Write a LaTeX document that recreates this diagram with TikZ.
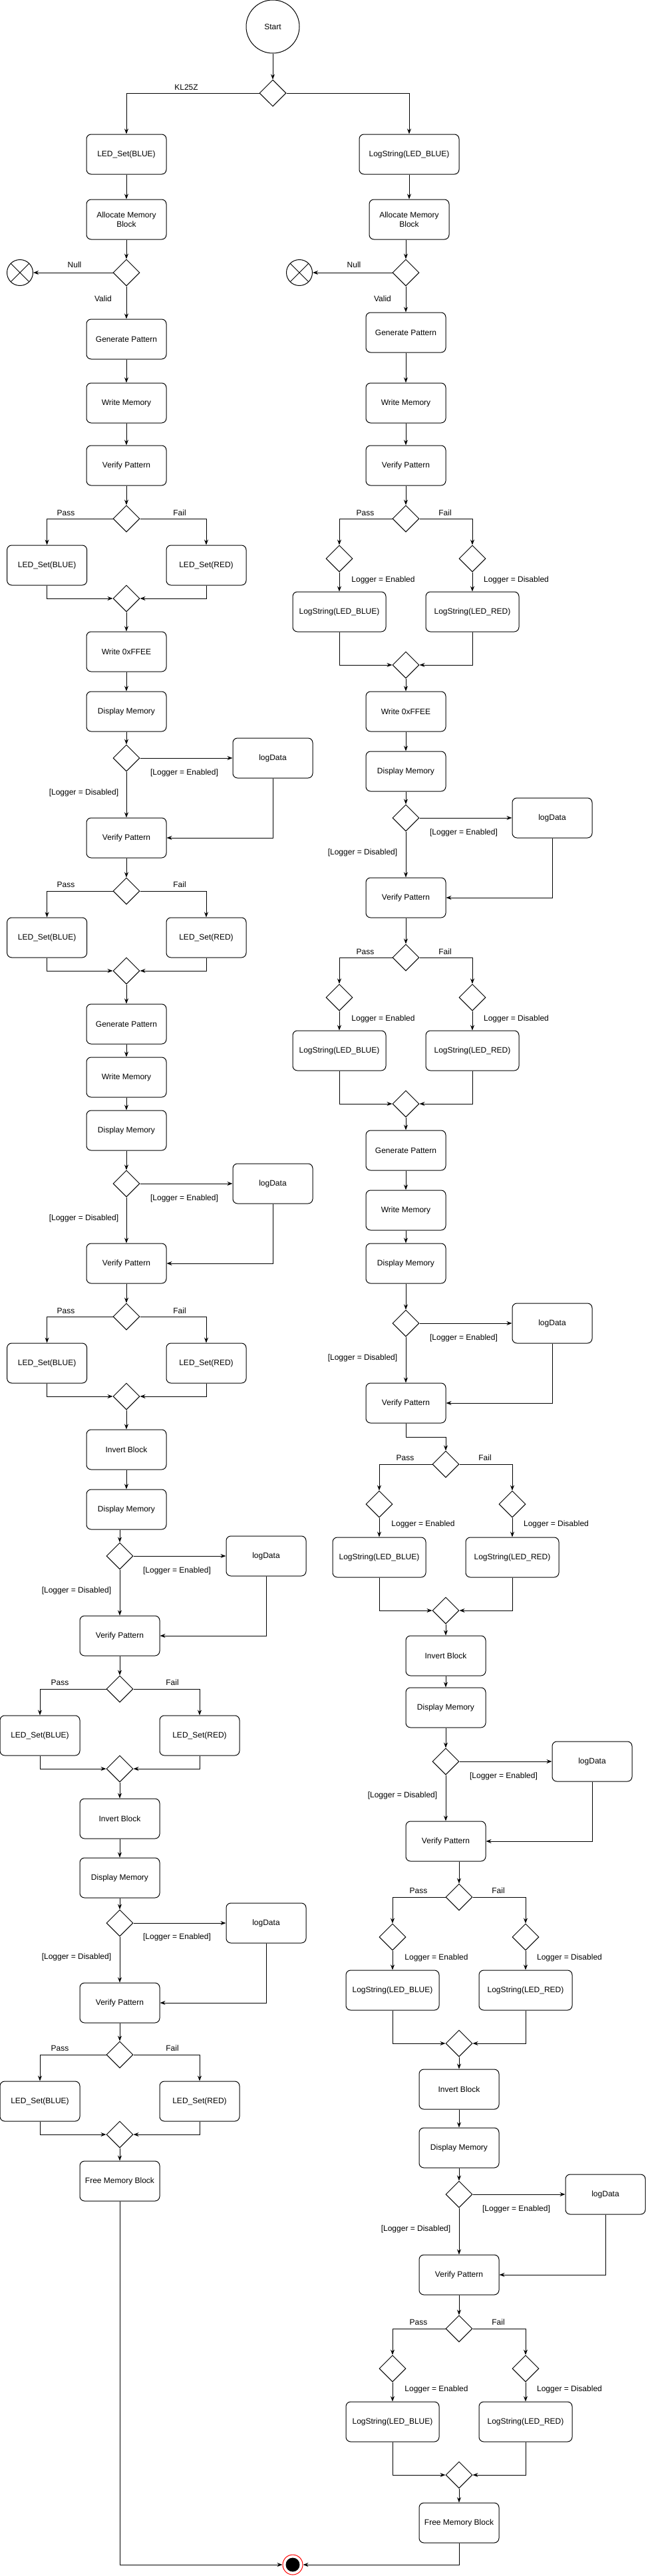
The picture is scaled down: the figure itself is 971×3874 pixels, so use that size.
\documentclass[tikz,border=0pt]{standalone}
\usepackage{fontspec}
\setmainfont{Liberation Sans}
\usetikzlibrary{shapes.geometric,arrows.meta}
\begin{document}
\begin{tikzpicture}[x=1pt,y=-1pt,line width=1pt,font=\fontsize{12}{14}\selectfont,
  act/.style={shape=rectangle,draw=black,rounded corners=7pt,minimum width=120pt,minimum height=60pt,inner sep=1pt,align=center},
  logbox/.style={act,minimum width=140pt},
  dec/.style={shape=diamond,draw=black,minimum width=40pt,minimum height=40pt,inner sep=0pt},
  lbl/.style={inner sep=0pt,text height=9pt,text depth=3pt},
  nullend/.style={shape=circle,draw=black,minimum size=39pt,inner sep=0pt,
    path picture={\draw (path picture bounding box.north west) -- (path picture bounding box.south east)
      (path picture bounding box.south west) -- (path picture bounding box.north east);}},
  stopnode/.style={shape=circle,draw=red,minimum size=30pt,inner sep=0pt,
    path picture={\fill[black] (path picture bounding box.center) circle (10.5pt);}},
  flow/.style={-{Stealth[length=8pt,width=6pt]}}]
  \useasboundingbox (0,0) rectangle (971,3874);

  \node[shape=circle,draw=black,minimum size=80pt] (start) at (410,40) {Start};
  \node[dec] (d0) at (410,140) {};
  \node[lbl] (tKL) at (280,132) {KL25Z};
  \node[stopnode] (stop) at (440,3857) {};

  % left branch
  \node[act] (lLed0) at (190,232) {LED\_Set(BLUE)};
  \node[act] (lAlloc) at (190,330) {Allocate Memory\\Block};
  \node[dec] (lNull) at (190,410) {};
  \node[nullend] (lX) at (30,410) {};
  \node[lbl] (tNullL) at (112,399) {Null};
  \node[lbl] (tValidL) at (155,450) {Valid};
  \node[act] (lGen1) at (190,510) {Generate Pattern};
  \node[act] (lWr1) at (190,606) {Write Memory};
  \node[act] (lVer1) at (190,700) {Verify Pattern};
  \node[dec] (lPF1) at (190,780) {};
  \node[lbl] (tPass1L) at (99,772) {Pass};
  \node[lbl] (tFail1L) at (270,772) {Fail};
  \node[act] (lB1) at (70.6,850) {LED\_Set(BLUE)};
  \node[act] (lR1) at (310,850) {LED\_Set(RED)};
  \node[dec] (lM1) at (190,900) {};
  \node[act] (lWf) at (190,980) {Write 0xFFEE};
  \node[act] (lDis1) at (190,1070) {Display Memory};
  \node[dec] (lLg1) at (190,1140) {};
  \node[act] (lLog1) at (410,1140) {logData};
  \node[lbl] (tEn1L) at (277,1162) {[Logger = Enabled]};
  \node[lbl] (tDis1L) at (126,1192) {[Logger = Disabled]};
  \node[act] (lVer2) at (190,1260) {Verify Pattern};
  \node[dec] (lPF2) at (190,1340) {};
  \node[lbl] (tPass2L) at (99,1331) {Pass};
  \node[lbl] (tFail2L) at (270,1331) {Fail};
  \node[act] (lB2) at (70.6,1410) {LED\_Set(BLUE)};
  \node[act] (lR2) at (310,1410) {LED\_Set(RED)};
  \node[dec] (lM2) at (190,1460) {};
  \node[act] (lGen2) at (190,1540) {Generate Pattern};
  \node[act] (lWr2) at (190,1620) {Write Memory};
  \node[act] (lDis2) at (190,1700) {Display Memory};
  \node[dec] (lLg2) at (190,1780) {};
  \node[act] (lLog2) at (410,1780) {logData};
  \node[lbl] (tEn2L) at (277,1802) {[Logger = Enabled]};
  \node[lbl] (tDis2L) at (126,1832) {[Logger = Disabled]};
  \node[act] (lVer3) at (190,1900) {Verify Pattern};
  \node[dec] (lPF3) at (190,1980) {};
  \node[lbl] (tPass3L) at (99,1972) {Pass};
  \node[lbl] (tFail3L) at (270,1972) {Fail};
  \node[act] (lB3) at (70.6,2050) {LED\_Set(BLUE)};
  \node[act] (lR3) at (310,2050) {LED\_Set(RED)};
  \node[dec] (lM3) at (190,2100) {};
  \node[act] (lInv1) at (190,2180) {Invert Block};
  \node[act] (lDis3) at (190,2270) {Display Memory};
  \node[dec] (lLg3) at (180,2340) {};
  \node[act] (lLog3) at (400,2340) {logData};
  \node[lbl] (tEn3L) at (266,2362) {[Logger = Enabled]};
  \node[lbl] (tDis3L) at (115,2392) {[Logger = Disabled]};
  \node[act] (lVer4) at (180,2460) {Verify Pattern};
  \node[dec] (lPF4) at (180,2540) {};
  \node[lbl] (tPass4L) at (90,2531) {Pass};
  \node[lbl] (tFail4L) at (259,2531) {Fail};
  \node[act] (lB4) at (60,2610) {LED\_Set(BLUE)};
  \node[act] (lR4) at (300,2610) {LED\_Set(RED)};
  \node[dec] (lM4) at (180,2660) {};
  \node[act] (lInv2) at (180,2735) {Invert Block};
  \node[act] (lDis4) at (180,2824) {Display Memory};
  \node[dec] (lLg4) at (180,2892) {};
  \node[act] (lLog4) at (400,2892) {logData};
  \node[lbl] (tEn4L) at (266,2913) {[Logger = Enabled]};
  \node[lbl] (tDis4L) at (115,2943) {[Logger = Disabled]};
  \node[act] (lVer5) at (180,3012) {Verify Pattern};
  \node[dec] (lPF5) at (180,3090) {};
  \node[lbl] (tPass5L) at (90,3081) {Pass};
  \node[lbl] (tFail5L) at (259,3081) {Fail};
  \node[act] (lB5) at (60,3160) {LED\_Set(BLUE)};
  \node[act] (lR5) at (300,3160) {LED\_Set(RED)};
  \node[dec] (lM5) at (180,3210) {};
  \node[act] (lFree) at (180,3280) {Free Memory Block};

  % right branch
  \node[act,minimum width=150pt] (rLog0) at (615,232) {LogString(LED\_BLUE)};
  \node[act] (rAlloc) at (615,330) {Allocate Memory\\Block};
  \node[dec] (rNull) at (610,410) {};
  \node[nullend] (rX) at (450,410) {};
  \node[lbl] (tNullR) at (532,399) {Null};
  \node[lbl] (tValidR) at (575,450) {Valid};
  \node[act] (rGen1) at (610,500) {Generate Pattern};
  \node[act] (rWr1) at (610,606) {Write Memory};
  \node[act] (rVer1) at (610,700) {Verify Pattern};
  \node[dec] (rPF1) at (610,780) {};
  \node[lbl] (tPass1R) at (549,772) {Pass};
  \node[lbl] (tFail1R) at (669,772) {Fail};
  \node[dec] (rLE1) at (510,840) {};
  \node[dec] (rLD1) at (710,840) {};
  \node[lbl] (tLE1) at (576,872) {Logger = Enabled};
  \node[lbl] (tLD1) at (776,872) {Logger = Disabled};
  \node[logbox] (rSB1) at (510,920) {LogString(LED\_BLUE)};
  \node[logbox] (rSR1) at (710,920) {LogString(LED\_RED)};
  \node[dec] (rM1) at (610,1000) {};
  \node[act] (rWf) at (610,1070) {Write 0xFFEE};
  \node[act] (rDis1) at (610,1160) {Display Memory};
  \node[dec] (rLg1) at (610,1230) {};
  \node[act] (rLog1) at (830,1230) {logData};
  \node[lbl] (tEn1R) at (697,1252) {[Logger = Enabled]};
  \node[lbl] (tDis1R) at (545,1282) {[Logger = Disabled]};
  \node[act] (rVer2) at (610,1350) {Verify Pattern};
  \node[dec] (rPF2) at (610,1440) {};
  \node[lbl] (tPass2R) at (549,1432) {Pass};
  \node[lbl] (tFail2R) at (669,1432) {Fail};
  \node[dec] (rLE2) at (510,1500) {};
  \node[dec] (rLD2) at (710,1500) {};
  \node[lbl] (tLE2) at (576,1532) {Logger = Enabled};
  \node[lbl] (tLD2) at (776,1532) {Logger = Disabled};
  \node[logbox] (rSB2) at (510,1580) {LogString(LED\_BLUE)};
  \node[logbox] (rSR2) at (710,1580) {LogString(LED\_RED)};
  \node[dec] (rM2) at (610,1660) {};
  \node[act] (rGen2) at (610,1730) {Generate Pattern};
  \node[act] (rWr2) at (610,1820) {Write Memory};
  \node[act] (rDis2) at (610,1900) {Display Memory};
  \node[dec] (rLg2) at (610,1990) {};
  \node[act] (rLog2) at (830,1990) {logData};
  \node[lbl] (tEn2R) at (697,2012) {[Logger = Enabled]};
  \node[lbl] (tDis2R) at (545,2042) {[Logger = Disabled]};
  \node[act] (rVer3) at (610,2110) {Verify Pattern};
  \node[dec] (rPF3) at (670,2202) {};
  \node[lbl] (tPass3R) at (609,2193) {Pass};
  \node[lbl] (tFail3R) at (729,2193) {Fail};
  \node[dec] (rLE3) at (570,2262) {};
  \node[dec] (rLD3) at (770,2262) {};
  \node[lbl] (tLE3) at (636,2292) {Logger = Enabled};
  \node[lbl] (tLD3) at (836,2292) {Logger = Disabled};
  \node[logbox] (rSB3) at (570,2342) {LogString(LED\_BLUE)};
  \node[logbox] (rSR3) at (770,2342) {LogString(LED\_RED)};
  \node[dec] (rM3) at (670,2422) {};
  \node[act] (rInv1) at (670,2490) {Invert Block};
  \node[act] (rDis3) at (670,2568) {Display Memory};
  \node[dec] (rLg3) at (670,2649) {};
  \node[act] (rLog3) at (890,2649) {logData};
  \node[lbl] (tEn3R) at (757,2671) {[Logger = Enabled]};
  \node[lbl] (tDis3R) at (605,2700) {[Logger = Disabled]};
  \node[act] (rVer4) at (670,2769) {Verify Pattern};
  \node[dec] (rPF4) at (690,2853) {};
  \node[lbl] (tPass4R) at (629,2844) {Pass};
  \node[lbl] (tFail4R) at (749,2844) {Fail};
  \node[dec] (rLE4) at (590,2913) {};
  \node[dec] (rLD4) at (790,2913) {};
  \node[lbl] (tLE4) at (656,2944) {Logger = Enabled};
  \node[lbl] (tLD4) at (856,2944) {Logger = Disabled};
  \node[logbox] (rSB4) at (590,2993) {LogString(LED\_BLUE)};
  \node[logbox] (rSR4) at (790,2993) {LogString(LED\_RED)};
  \node[dec] (rM4) at (690,3073) {};
  \node[act] (rInv2) at (690,3142) {Invert Block};
  \node[act] (rDis4) at (690,3230) {Display Memory};
  \node[dec] (rLg4) at (690,3300) {};
  \node[act] (rLog4) at (910,3300) {logData};
  \node[lbl] (tEn4R) at (776,3322) {[Logger = Enabled]};
  \node[lbl] (tDis4R) at (625,3352) {[Logger = Disabled]};
  \node[act] (rVer5) at (690,3421) {Verify Pattern};
  \node[dec] (rPF5) at (690,3502) {};
  \node[lbl] (tPass5R) at (629,3493) {Pass};
  \node[lbl] (tFail5R) at (749,3493) {Fail};
  \node[dec] (rLE5) at (590,3562) {};
  \node[dec] (rLD5) at (790,3562) {};
  \node[lbl] (tLE5) at (656,3593) {Logger = Enabled};
  \node[lbl] (tLD5) at (856,3593) {Logger = Disabled};
  \node[logbox] (rSB5) at (590,3642) {LogString(LED\_BLUE)};
  \node[logbox] (rSR5) at (790,3642) {LogString(LED\_RED)};
  \node[dec] (rM5) at (690,3722) {};
  \node[act] (rFree) at (690,3794) {Free Memory Block};

  % connectors, top
  \path [flow] (start) edge (d0);
  \draw [flow] (d0.west) -| (lLed0.north);
  \draw [flow] (d0.east) -| (rLog0.north);

  % connectors, left
  \path [flow] (lLed0) edge (lAlloc);
  \path [flow] (lAlloc) edge (lNull);
  \path [flow] (lNull) edge (lX);
  \path [flow] (lNull) edge (lGen1);
  \path [flow] (lGen1) edge (lWr1);
  \path [flow] (lWr1) edge (lVer1);
  \path [flow] (lVer1) edge (lPF1);
  \draw [flow] (lPF1.west) -| (lB1.north);
  \draw [flow] (lPF1.east) -| (lR1.north);
  \draw [flow] (lB1.south) |- (lM1.west);
  \draw [flow] (lR1.south) |- (lM1.east);
  \path [flow] (lM1) edge (lWf);
  \path [flow] (lWf) edge (lDis1);
  \path [flow] (lDis1) edge (lLg1);
  \path [flow] (lLg1) edge (lLog1);
  \path [flow] (lLg1) edge (lVer2);
  \draw [flow] (lLog1.south) |- (lVer2.east);
  \path [flow] (lVer2) edge (lPF2);
  \draw [flow] (lPF2.west) -| (lB2.north);
  \draw [flow] (lPF2.east) -| (lR2.north);
  \draw [flow] (lB2.south) |- (lM2.west);
  \draw [flow] (lR2.south) |- (lM2.east);
  \path [flow] (lM2) edge (lGen2);
  \path [flow] (lGen2) edge (lWr2);
  \path [flow] (lWr2) edge (lDis2);
  \path [flow] (lDis2) edge (lLg2);
  \path [flow] (lLg2) edge (lLog2);
  \path [flow] (lLg2) edge (lVer3);
  \draw [flow] (lLog2.south) |- (lVer3.east);
  \path [flow] (lVer3) edge (lPF3);
  \draw [flow] (lPF3.west) -| (lB3.north);
  \draw [flow] (lPF3.east) -| (lR3.north);
  \draw [flow] (lB3.south) |- (lM3.west);
  \draw [flow] (lR3.south) |- (lM3.east);
  \path [flow] (lM3) edge (lInv1);
  \path [flow] (lInv1) edge (lDis3);
  \draw [flow] (lDis3.south -| lLg3) -- (lLg3);
  \path [flow] (lLg3) edge (lLog3);
  \path [flow] (lLg3) edge (lVer4);
  \draw [flow] (lLog3.south) |- (lVer4.east);
  \path [flow] (lVer4) edge (lPF4);
  \draw [flow] (lPF4.west) -| (lB4.north);
  \draw [flow] (lPF4.east) -| (lR4.north);
  \draw [flow] (lB4.south) |- (lM4.west);
  \draw [flow] (lR4.south) |- (lM4.east);
  \path [flow] (lM4) edge (lInv2);
  \path [flow] (lInv2) edge (lDis4);
  \path [flow] (lDis4) edge (lLg4);
  \path [flow] (lLg4) edge (lLog4);
  \path [flow] (lLg4) edge (lVer5);
  \draw [flow] (lLog4.south) |- (lVer5.east);
  \path [flow] (lVer5) edge (lPF5);
  \draw [flow] (lPF5.west) -| (lB5.north);
  \draw [flow] (lPF5.east) -| (lR5.north);
  \draw [flow] (lB5.south) |- (lM5.west);
  \draw [flow] (lR5.south) |- (lM5.east);
  \path [flow] (lM5) edge (lFree);
  \draw [flow] (lFree.south) |- (stop.west);

  % connectors, right
  \path [flow] (rLog0) edge (rAlloc);
  \draw [flow] (rAlloc.south -| rNull) -- (rNull);
  \path [flow] (rNull) edge (rX);
  \path [flow] (rNull) edge (rGen1);
  \path [flow] (rGen1) edge (rWr1);
  \path [flow] (rWr1) edge (rVer1);
  \path [flow] (rVer1) edge (rPF1);
  \draw [flow] (rPF1.west) -| (rLE1.north);
  \draw [flow] (rPF1.east) -| (rLD1.north);
  \path [flow] (rLE1) edge (rSB1);
  \path [flow] (rLD1) edge (rSR1);
  \draw [flow] (rSB1.south) |- (rM1.west);
  \draw [flow] (rSR1.south) |- (rM1.east);
  \path [flow] (rM1) edge (rWf);
  \path [flow] (rWf) edge (rDis1);
  \path [flow] (rDis1) edge (rLg1);
  \path [flow] (rLg1) edge (rLog1);
  \path [flow] (rLg1) edge (rVer2);
  \draw [flow] (rLog1.south) |- (rVer2.east);
  \path [flow] (rVer2) edge (rPF2);
  \draw [flow] (rPF2.west) -| (rLE2.north);
  \draw [flow] (rPF2.east) -| (rLD2.north);
  \path [flow] (rLE2) edge (rSB2);
  \path [flow] (rLD2) edge (rSR2);
  \draw [flow] (rSB2.south) |- (rM2.west);
  \draw [flow] (rSR2.south) |- (rM2.east);
  \path [flow] (rM2) edge (rGen2);
  \path [flow] (rGen2) edge (rWr2);
  \path [flow] (rWr2) edge (rDis2);
  \path [flow] (rDis2) edge (rLg2);
  \path [flow] (rLg2) edge (rLog2);
  \path [flow] (rLg2) edge (rVer3);
  \draw [flow] (rLog2.south) |- (rVer3.east);
  \draw [flow] (rVer3.south) -- ++(0,21) -| (rPF3.north);
  \draw [flow] (rPF3.west) -| (rLE3.north);
  \draw [flow] (rPF3.east) -| (rLD3.north);
  \path [flow] (rLE3) edge (rSB3);
  \path [flow] (rLD3) edge (rSR3);
  \draw [flow] (rSB3.south) |- (rM3.west);
  \draw [flow] (rSR3.south) |- (rM3.east);
  \path [flow] (rM3) edge (rInv1);
  \path [flow] (rInv1) edge (rDis3);
  \path [flow] (rDis3) edge (rLg3);
  \path [flow] (rLg3) edge (rLog3);
  \path [flow] (rLg3) edge (rVer4);
  \draw [flow] (rLog3.south) |- (rVer4.east);
  \draw [flow] (rVer4.south -| rPF4) -- (rPF4);
  \draw [flow] (rPF4.west) -| (rLE4.north);
  \draw [flow] (rPF4.east) -| (rLD4.north);
  \path [flow] (rLE4) edge (rSB4);
  \path [flow] (rLD4) edge (rSR4);
  \draw [flow] (rSB4.south) |- (rM4.west);
  \draw [flow] (rSR4.south) |- (rM4.east);
  \path [flow] (rM4) edge (rInv2);
  \path [flow] (rInv2) edge (rDis4);
  \path [flow] (rDis4) edge (rLg4);
  \path [flow] (rLg4) edge (rLog4);
  \path [flow] (rLg4) edge (rVer5);
  \draw [flow] (rLog4.south) |- (rVer5.east);
  \path [flow] (rVer5) edge (rPF5);
  \draw [flow] (rPF5.west) -| (rLE5.north);
  \draw [flow] (rPF5.east) -| (rLD5.north);
  \path [flow] (rLE5) edge (rSB5);
  \path [flow] (rLD5) edge (rSR5);
  \draw [flow] (rSB5.south) |- (rM5.west);
  \draw [flow] (rSR5.south) |- (rM5.east);
  \path [flow] (rM5) edge (rFree);
  \draw [flow] (rFree.south) |- (stop.east);
\end{tikzpicture}
\end{document}
